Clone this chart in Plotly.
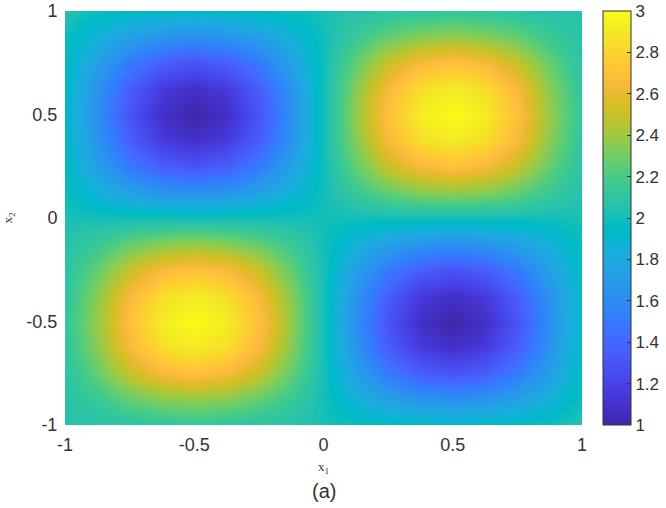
import plotly.graph_objects as go

x1_values = [-1, -0.875, -0.75, -0.625, -0.5, -0.375, -0.25, -0.125, 0, 0.125, 0.25, 0.375, 0.5, 0.625, 0.75, 0.875, 1]
x2_values = [-1, -0.875, -0.75, -0.625, -0.5, -0.375, -0.25, -0.125, 0, 0.125, 0.25, 0.375, 0.5, 0.625, 0.75, 0.875, 1]
z_values = [
    [2.06, 2.06, 2.08, 2.10, 2.12, 2.10, 2.08, 2.06, 2.02, 1.98, 1.96, 1.94, 1.93, 1.94, 1.96, 1.98, 2.06],
    [2.06, 2.15, 2.27, 2.35, 2.38, 2.35, 2.27, 2.15, 2.00, 1.85, 1.73, 1.65, 1.62, 1.65, 1.73, 1.85, 1.98],
    [2.08, 2.27, 2.50, 2.65, 2.71, 2.65, 2.50, 2.27, 2.00, 1.73, 1.50, 1.35, 1.29, 1.35, 1.50, 1.73, 1.96],
    [2.10, 2.35, 2.65, 2.85, 2.92, 2.85, 2.65, 2.35, 2.00, 1.65, 1.35, 1.15, 1.08, 1.15, 1.35, 1.65, 1.94],
    [2.12, 2.38, 2.71, 2.92, 3.00, 2.92, 2.71, 2.38, 2.00, 1.62, 1.29, 1.08, 1.00, 1.08, 1.29, 1.62, 1.93],
    [2.10, 2.35, 2.65, 2.85, 2.92, 2.85, 2.65, 2.35, 2.00, 1.65, 1.35, 1.15, 1.08, 1.15, 1.35, 1.65, 1.94],
    [2.08, 2.27, 2.50, 2.65, 2.71, 2.65, 2.50, 2.27, 2.00, 1.73, 1.50, 1.35, 1.29, 1.35, 1.50, 1.73, 1.96],
    [2.06, 2.15, 2.27, 2.35, 2.38, 2.35, 2.27, 2.15, 2.00, 1.85, 1.73, 1.65, 1.62, 1.65, 1.73, 1.85, 1.98],
    [2.02, 2.00, 2.00, 2.00, 2.00, 2.00, 2.00, 2.00, 2.00, 2.00, 2.00, 2.00, 2.00, 2.00, 2.00, 2.00, 2.02],
    [1.98, 1.85, 1.73, 1.65, 1.62, 1.65, 1.73, 1.85, 2.00, 2.15, 2.27, 2.35, 2.38, 2.35, 2.27, 2.15, 2.06],
    [1.96, 1.73, 1.50, 1.35, 1.29, 1.35, 1.50, 1.73, 2.00, 2.27, 2.50, 2.65, 2.71, 2.65, 2.50, 2.27, 2.08],
    [1.94, 1.65, 1.35, 1.15, 1.08, 1.15, 1.35, 1.65, 2.00, 2.35, 2.65, 2.85, 2.92, 2.85, 2.65, 2.35, 2.10],
    [1.93, 1.62, 1.29, 1.08, 1.00, 1.08, 1.29, 1.62, 2.00, 2.38, 2.71, 2.92, 3.00, 2.92, 2.71, 2.38, 2.12],
    [1.94, 1.65, 1.35, 1.15, 1.08, 1.15, 1.35, 1.65, 2.00, 2.35, 2.65, 2.85, 2.92, 2.85, 2.65, 2.35, 2.10],
    [1.96, 1.73, 1.50, 1.35, 1.29, 1.35, 1.50, 1.73, 2.00, 2.27, 2.50, 2.65, 2.71, 2.65, 2.50, 2.27, 2.08],
    [1.98, 1.85, 1.73, 1.65, 1.62, 1.65, 1.73, 1.85, 2.00, 2.15, 2.27, 2.35, 2.38, 2.35, 2.27, 2.15, 2.06],
    [2.06, 1.98, 1.96, 1.94, 1.93, 1.94, 1.96, 1.98, 2.02, 2.06, 2.08, 2.10, 2.12, 2.10, 2.08, 2.06, 2.06],
]
axis_ticks = [-1, -0.5, 0, 0.5, 1]
axis_tick_labels = ["-1", "-0.5", "0", "0.5", "1"]
colorbar_ticks = [1, 1.2, 1.4, 1.6, 1.8, 2, 2.2, 2.4, 2.6, 2.8, 3]
colorbar_tick_labels = ["1", "1.2", "1.4", "1.6", "1.8", "2", "2.2", "2.4", "2.6", "2.8", "3"]
parula_rgb = [
    (.2422,.1504,.6603),(.2504,.1650,.7076),(.2578,.1818,.7511),(.2647,.1978,.7952),(.2706,.2147,.8364),
    (.2751,.2342,.8710),(.2783,.2559,.8991),(.2803,.2782,.9221),(.2813,.3006,.9414),(.2810,.3228,.9579),
    (.2795,.3447,.9717),(.2760,.3667,.9829),(.2699,.3892,.9906),(.2602,.4123,.9952),(.2440,.4358,.9988),
    (.2206,.4603,.9973),(.1963,.4847,.9892),(.1834,.5074,.9798),(.1786,.5289,.9682),(.1764,.5499,.9520),
    (.1687,.5703,.9359),(.1540,.5902,.9218),(.1460,.6091,.9079),(.1380,.6276,.8973),(.1248,.6459,.8883),
    (.1113,.6635,.8763),(.0952,.6798,.8598),(.0689,.6948,.8394),(.0297,.7082,.8163),(.0036,.7203,.7917),
    (.0067,.7312,.7660),(.0433,.7411,.7394),(.0964,.7500,.7120),(.1408,.7584,.6842),(.1717,.7670,.6554),
    (.1938,.7758,.6251),(.2161,.7843,.5923),(.2470,.7918,.5567),(.2906,.7973,.5188),(.3406,.8008,.4789),
    (.3909,.8029,.4354),(.4456,.8024,.3909),(.5044,.7993,.3480),(.5616,.7942,.3045),(.6174,.7876,.2612),
    (.6720,.7793,.2227),(.7242,.7698,.1910),(.7738,.7598,.1646),(.8203,.7498,.1535),(.8634,.7406,.1596),
    (.9035,.7330,.1774),(.9393,.7288,.2100),(.9728,.7298,.2394),(.9956,.7434,.2371),(.9970,.7659,.2199),
    (.9952,.7893,.2028),(.9892,.8136,.1885),(.9786,.8386,.1766),(.9676,.8639,.1643),(.9610,.8890,.1537),
    (.9597,.9135,.1423),(.9628,.9373,.1265),(.9691,.9606,.1064),(.9769,.9839,.0805),
]
parula = [[i / (len(parula_rgb) - 1), "rgb(%d,%d,%d)" % tuple(round(c * 255) for c in rgb)]
          for i, rgb in enumerate(parula_rgb)]

W, H = 666, 508
L, R, T, B = 65, 582, 11, 425
TEXT = "#333333"
fig = go.Figure(go.Heatmap(
    x=x1_values, y=x2_values, z=z_values, zmin=1, zmax=3, zsmooth="best", colorscale=parula,
    colorbar=dict(
        thickness=28, thicknessmode="pixels", len=B - T, lenmode="pixels",
        x=(603 - L) / (R - L), xanchor="left", y=0, yanchor="bottom", xpad=0, ypad=0,
        tickmode="array", tickvals=colorbar_ticks, ticktext=colorbar_tick_labels,
        ticks="inside", ticklen=4, tickcolor=TEXT, tickwidth=1,
        outlinecolor=TEXT, outlinewidth=1,
        tickfont=dict(family="Liberation Sans", size=17, color=TEXT),
    ),
))
axis_style = dict(
    range=[-1, 1], tickmode="array", tickvals=axis_ticks, ticktext=axis_tick_labels,
    showgrid=False, zeroline=False, showline=False, ticks="outside", tickcolor="white",
    tickfont=dict(family="Liberation Sans", size=18, color=TEXT),
)
fig.update_layout(
    width=W, height=H, paper_bgcolor="white", plot_bgcolor="white", showlegend=False,
    margin=dict(l=L, r=W - R, t=T, b=H - B, autoexpand=False),
    xaxis=dict(axis_style, ticklen=3, domain=[0, 1], title=dict(text="x<sub>1</sub>", standoff=8,
               font=dict(family="Liberation Serif", size=13, color=TEXT))),
    yaxis=dict(axis_style, ticklen=3, domain=[0, 1], title=dict(text="x<sub>2</sub>", standoff=13,
               font=dict(family="Liberation Serif", size=13, color=TEXT))),
    annotations=[dict(text="(a)", xref="paper", yref="paper", x=0.5, y=-(491 - B) / (B - T),
                      yanchor="middle", showarrow=False,
                      font=dict(family="Liberation Sans", size=20, color=TEXT))],
)
fig.write_html("out.html", config={"displayModeBar": False},
               post_script="document.body.style.margin='0';")
